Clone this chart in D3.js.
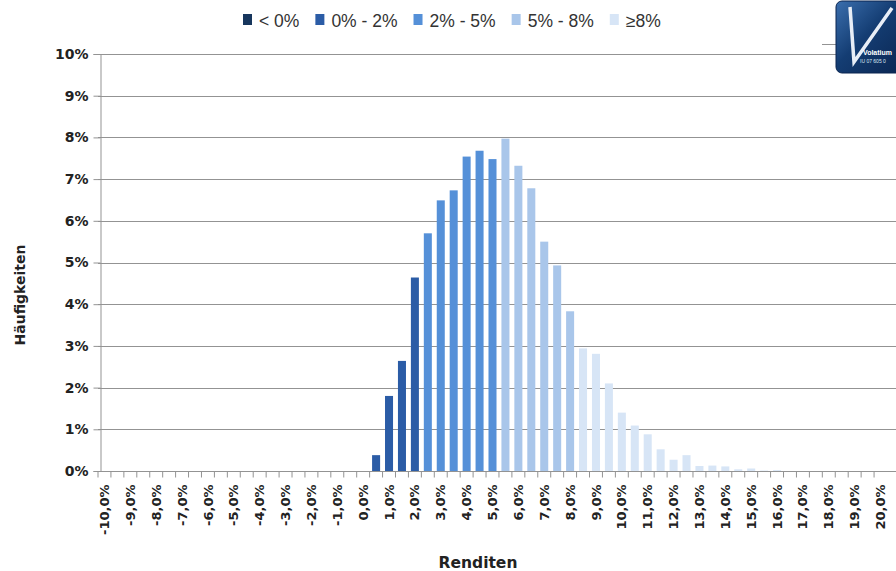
<!DOCTYPE html>
<html>
<head>
<meta charset="utf-8">
<script src="https://cdn.jsdelivr.net/npm/d3@7/dist/d3.min.js"></script>
<style>
  body { margin: 0; background: #fff; }
  svg { display: block; font-family: "Liberation Sans", Arial, sans-serif; }
  .bold { font-family: "DejaVu Sans", sans-serif; font-weight: bold; fill: #222; }
</style>
</head>
<body>
<svg id="chart" width="896" height="571"></svg>
<script>
// Rendite-Klassen (0,5%-Schritte)
var categories = [
  "-10,0%","-9,5%","-9,0%","-8,5%","-8,0%","-7,5%","-7,0%","-6,5%","-6,0%","-5,5%",
  "-5,0%","-4,5%","-4,0%","-3,5%","-3,0%","-2,5%","-2,0%","-1,5%","-1,0%","-0,5%",
  "0,0%","0,5%","1,0%","1,5%","2,0%","2,5%","3,0%","3,5%","4,0%","4,5%",
  "5,0%","5,5%","6,0%","6,5%","7,0%","7,5%","8,0%","8,5%","9,0%","9,5%",
  "10,0%","10,5%","11,0%","11,5%","12,0%","12,5%","13,0%","13,5%","14,0%","14,5%",
  "15,0%","15,5%","16,0%","16,5%","17,0%","17,5%","18,0%","18,5%","19,0%","19,5%",
  "20,0%"
];
// Häufigkeiten in %
var values = [
  0,0,0,0,0,0,0,0,0,0,
  0,0,0,0,0,0,0,0,0,0,
  0,0.38,1.80,2.64,4.64,5.70,6.49,6.73,7.54,7.68,
  7.48,7.97,7.32,6.78,5.50,4.93,3.83,2.94,2.81,2.10,
  1.40,1.09,0.88,0.52,0.27,0.38,0.12,0.13,0.11,0.04,
  0.06,0.01,0.02,0,0,0,0,0,0,0,
  0
];
var yTicks = [0,1,2,3,4,5,6,7,8,9,10];
var groupLabels = ["< 0%", "0% - 2%", "2% - 5%", "5% - 8%", "\u22658%"];
var groupLimits = [0, 2, 5, 8];
var groupColors = ["#17365d", "#2b5ca6", "#5590d8", "#a9c6ea", "#d7e5f6"];

var svg = d3.select("#chart");
var margin = {left: 98, right: 9, top: 54, bottom: 100};
var width = 896 - margin.left - margin.right,
    height = 571 - margin.top - margin.bottom;

var x = d3.scaleBand().domain(categories).range([margin.left, margin.left + width]).paddingInner(0.38).paddingOuter(0.19);
var y = d3.scaleLinear().domain([0, 10]).range([margin.top + height, margin.top]);

function numOf(c) { return parseFloat(c.replace(",", ".")); }
function groupOf(c) { return d3.bisectLeft(groupLimits, numOf(c)); }

// gridlines
svg.append("g").selectAll("line").data(yTicks).join("line")
  .attr("x1", margin.left).attr("x2", 896)
  .attr("y1", function(d) { return Math.round(y(d)) + 0.5; })
  .attr("y2", function(d) { return Math.round(y(d)) + 0.5; })
  .attr("stroke", "#939393").attr("stroke-width", 1);

// bars
svg.append("g").selectAll("rect").data(values).join("rect")
  .attr("x", function(d, i) { return x(categories[i]); })
  .attr("width", x.bandwidth())
  .attr("y", function(d) { return y(d); })
  .attr("height", function(d) { return y(0) - y(d); })
  .attr("fill", function(d, i) { return groupColors[groupOf(categories[i])]; });

// y axis
var yAxis = svg.append("g").attr("transform", "translate(" + (margin.left + 2.5) + ",0)")
  .call(d3.axisLeft(y).tickValues(yTicks).tickSize(7).tickPadding(5).tickFormat(function(d) { return d + "%"; }));
yAxis.select(".domain").attr("stroke", "#939393");
yAxis.selectAll(".tick line").attr("stroke", "#939393");
yAxis.selectAll("text").attr("class", "bold").attr("font-size", 14).attr("font-family", null).attr("fill", null);

// x axis: ticks at band boundaries
var step = x.step();
var xBase = Math.round(y(0)) + 0.5;
svg.append("g").selectAll("line").data(categories).join("line")
  .attr("x1", function(c) { return x(c) - step * 0.19; })
  .attr("x2", function(c) { return x(c) - step * 0.19; })
  .attr("y1", xBase).attr("y2", xBase + 6)
  .attr("stroke", "#939393");
svg.append("g").selectAll("text").data(categories.filter(function(c) { return numOf(c) % 1 === 0; })).join("text")
  .attr("class", "bold")
  .attr("transform", function(c) { return "translate(" + (x(c) + x.bandwidth() / 2) + "," + (xBase + 13) + ") rotate(-90)"; })
  .attr("dy", "0.35em")
  .attr("text-anchor", "end")
  .attr("font-size", 13)
  .text(function(c) { return c; });

// axis titles
svg.append("text").attr("class", "bold").attr("transform", "translate(25,295) rotate(-90)")
  .attr("text-anchor", "middle").attr("font-size", 14)
  .text("Häufigkeiten");
svg.append("text").attr("class", "bold").attr("x", 478).attr("y", 568)
  .attr("text-anchor", "middle").attr("font-size", 15.5)
  .text("Renditen");

// legend
var lx = 243;
groupLabels.forEach(function(lab, i) {
  svg.append("rect").attr("x", lx).attr("y", 14).attr("width", 9).attr("height", 11).attr("fill", groupColors[i]);
  var t = svg.append("text").attr("x", lx + 16).attr("y", 26.5)
    .attr("font-size", 17.5).attr("fill", "#333").text(lab);
  lx += 16 + t.node().getComputedTextLength() + 16;
});

// logo
var defs = svg.append("defs");
var grad = defs.append("linearGradient").attr("id", "logoGrad").attr("x1", 0).attr("y1", 0).attr("x2", 1).attr("y2", 1);
grad.append("stop").attr("offset", "0%").attr("stop-color", "#3b6fae");
grad.append("stop").attr("offset", "45%").attr("stop-color", "#143d73");
grad.append("stop").attr("offset", "100%").attr("stop-color", "#0a2550");
svg.append("line").attr("x1", 822).attr("x2", 846).attr("y1", 44.5).attr("y2", 44.5).attr("stroke", "#939393");
var logo = svg.append("g");
logo.append("rect").attr("x", 836).attr("y", 1).attr("width", 70).attr("height", 72).attr("rx", 6)
  .attr("fill", "url(#logoGrad)").attr("stroke", "#0a2550");
logo.append("path").attr("d", "M850,7 L854,62 L892,8")
  .attr("fill", "none").attr("stroke", "#e8eef7").attr("stroke-width", 3.5).attr("stroke-linejoin", "miter");
logo.append("text").attr("x", 863).attr("y", 55).attr("font-size", 7).attr("font-weight", "bold").attr("fill", "#fff").text("Volatium");
logo.append("text").attr("x", 860).attr("y", 63).attr("font-size", 5).attr("fill", "#dfe8f4").text("IU 07 605 0");
</script>
</body>
</html>
